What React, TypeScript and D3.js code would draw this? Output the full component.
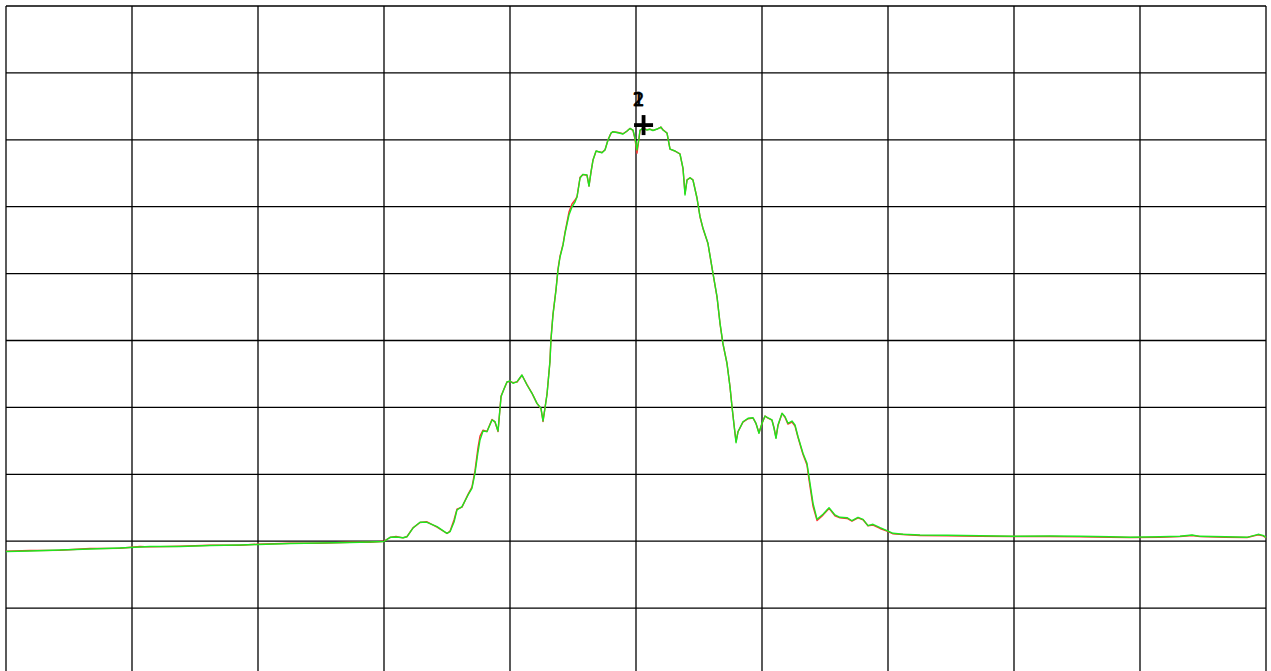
import React from "react";
import * as d3 from "d3";

// Frequency offset from start frequency (MHz), span 100 MHz, 10 MHz/div
const freqMHz: number[] = [
  0.0, 1.9, 4.29, 6.67, 9.05, 10.63, 11.43, 13.81, 16.19, 18.57, 20.0, 22.54, 24.92, 27.3, 28.89, 30.0,
  30.48, 30.95, 31.51, 31.83, 32.3, 32.86, 33.41, 34.21, 35.0, 35.24, 35.56, 35.79, 36.19, 36.67, 36.98, 37.22,
  37.46, 37.62, 37.86, 38.17, 38.57, 38.81, 39.05, 39.29, 39.52, 39.76, 40.0, 40.24, 40.56, 40.95, 41.35, 41.75,
  42.14, 42.46, 42.62, 42.78, 42.94, 43.17,
  43.25, 43.41, 43.65, 43.81, 43.97, 44.21, 44.37, 44.68, 44.92, 45.16, 45.32, 45.56, 45.79, 46.11, 46.27, 46.43,
  46.59, 46.83, 47.3, 47.54, 47.78, 48.02, 48.17, 48.57, 48.97, 49.29, 49.52, 49.76, 49.92, 50.08, 50.24, 50.32,
  50.56, 50.87, 51.11, 51.35, 51.67, 51.98, 52.14, 52.46,
  52.7, 53.1, 53.49, 53.73, 53.89, 54.05, 54.29, 54.52, 54.84, 55.08, 55.32, 55.71, 56.11, 56.43, 56.67, 56.9,
  57.22, 57.46, 57.62, 57.78, 57.94,
  58.1, 58.49, 58.89, 59.29, 59.52, 59.76, 60.0, 60.24, 60.48, 60.79, 60.95, 61.11, 61.27, 61.59, 61.83, 62.06,
  62.38, 62.62, 62.86, 63.25, 63.57, 63.73, 64.05, 64.37,
  64.84, 65.32, 65.79, 66.19, 66.75, 67.14, 67.62, 68.02, 68.41, 68.81, 69.37, 69.92, 70.4, 71.19, 72.54, 74.68,
  77.3, 79.92, 82.86, 85.24, 87.62, 89.21, 91.59, 93.17, 94.13, 94.76, 96.75, 98.49, 99.37, 99.76, 100.0,
];

// Trace 2 (green), dBm
const greenLevel: number[] = [
  -81.54, -81.46, -81.32, -81.17, -81.02, -80.87, -80.79, -80.79, -80.64, -80.57, -80.49, -80.34, -80.27, -80.19, -80.12, -80.04,
  -79.42, -79.37, -79.48, -79.33, -78.03, -77.17, -77.17, -77.83, -78.82, -78.58, -77.13, -75.34, -74.84, -73.09, -72.09, -69.85,
  -66.67, -64.87, -63.53, -63.63, -61.88, -62.14, -63.53, -58.4, -57.25, -56.2, -56.05, -56.4, -56.16, -55.16, -56.65, -57.89,
  -59.39, -60.13, -62.03, -60.09, -58.0, -53.21,
  -49.93, -46.19, -42.45, -39.46, -37.52, -35.72, -33.93, -31.24, -30.04, -29.3, -28.55, -25.71, -25.16, -25.26, -26.91, -24.81,
  -23.02, -21.67, -21.93, -21.52, -20.03, -18.98, -18.79, -18.94, -19.13, -18.68, -18.31, -18.54, -19.73, -21.52, -19.73, -18.54,
  -18.28, -18.54, -18.43, -18.61, -18.39, -18.09, -18.54, -18.98,
  -21.38, -21.67, -22.12, -24.22, -28.25, -26.01, -25.67, -26.01, -28.7, -31.49, -33.23, -35.47, -39.96, -43.45, -47.43, -50.42,
  -53.41, -56.91, -59.9, -62.63, -65.28,
  -63.63, -62.14, -61.63, -61.54, -62.38, -63.87, -62.38, -61.29, -61.58, -61.88, -63.08, -64.62, -62.63, -60.88, -61.39, -62.38,
  -62.03, -62.63, -64.38, -66.86, -68.36, -70.36, -74.34, -76.73,
  -75.98, -74.99, -76.08, -76.43, -76.49, -76.94, -76.43, -76.73, -77.68, -77.47, -77.98, -78.43, -78.82, -78.97, -79.07, -79.12,
  -79.19, -79.27, -79.22, -79.27, -79.34, -79.42, -79.34, -79.27, -79.07, -79.27, -79.34, -79.42, -78.97, -79.12, -79.42,
];

// Trace 1 (red), dBm
const redLevel: number[] = [
  -81.5, -81.4, -81.35, -81.1, -81.05, -80.8, -80.85, -80.75, -80.6, -80.6, -80.45, -80.3, -80.3, -80.15, -80.15, -80.0,
  -79.45, -79.3, -79.5, -79.3, -78.0, -77.2, -77.1, -77.9, -78.85, -78.5, -76.8, -75.2, -74.9, -73.0, -71.9, -69.5,
  -66.0, -64.3, -63.4, -63.6, -61.8, -62.2, -63.6, -58.3, -57.3, -56.2, -56.1, -56.3, -56.2, -55.2, -56.6, -57.9,
  -59.4, -60.2, -62.1, -60.0, -58.0, -53.1,
  -49.8, -46.1, -42.4, -39.3, -37.4, -35.6, -33.8, -30.8, -29.6, -29.0, -28.5, -25.6, -25.2, -25.3, -26.9, -24.8,
  -23.0, -21.7, -21.9, -21.5, -20.0, -19.0, -18.8, -18.9, -19.1, -18.7, -18.3, -18.6, -19.9, -22.0, -19.8, -18.6,
  -18.3, -18.5, -18.4, -18.6, -18.4, -18.1, -18.5, -19.0,
  -21.4, -21.7, -22.1, -24.3, -28.0, -26.0, -25.7, -26.0, -28.7, -31.5, -33.3, -35.5, -40.0, -43.5, -47.5, -50.5,
  -53.4, -56.9, -59.9, -62.6, -65.1,
  -63.6, -62.2, -61.7, -61.6, -62.4, -63.8, -62.4, -61.3, -61.6, -61.9, -63.0, -64.5, -62.7, -60.9, -61.5, -62.5,
  -62.2, -62.8, -64.5, -67.0, -68.6, -70.8, -74.8, -76.9,
  -76.1, -75.1, -76.2, -76.5, -76.6, -77.0, -76.5, -76.8, -77.7, -77.6, -78.1, -78.5, -78.9, -79.0, -79.15, -79.2,
  -79.25, -79.3, -79.3, -79.35, -79.4, -79.45, -79.4, -79.3, -79.15, -79.3, -79.4, -79.45, -79.05, -79.2, -79.45,
];

const markerFreq: number[] = [50.6, 50.6];
const markerLevel: number[] = [-17.8, -17.8];
const markerLabels: string[] = ["1", "2"];

const xTicks: number[] = [0, 10, 20, 30, 40, 50, 60, 70, 80, 90, 100];
const yTicks: number[] = [0, -10, -20, -30, -40, -50, -60, -70, -80, -90, -100];

const W = 1271;
const H = 671;

export default function App() {
  const x = d3.scaleLinear().domain([0, 100]).range([6, 1266]);
  const y = d3.scaleLinear().domain([0, -100]).range([6, 675]);

  const mk = (lv: number[]) =>
    d3
      .line<number>()
      .x((_, i) => x(freqMHz[i]))
      .y((v) => y(v))
      .curve(d3.curveLinear)(lv.slice(0, freqMHz.length)) || "";

  const mx = x(markerFreq[0]);
  const my = y(markerLevel[0]);

  return (
    <svg
      width={W}
      height={H}
      style={{ position: "absolute", left: 0, top: 0, background: "#fff" }}
    >
      <rect x={0} y={0} width={W} height={H} fill="#fff" />
      {xTicks.map((t) => (
        <line key={"vx" + t} x1={x(t)} x2={x(t)} y1={y(0)} y2={y(-100)} stroke="#000" strokeWidth={1.3} />
      ))}
      {yTicks.map((t) => (
        <line key={"hy" + t} x1={x(0)} x2={x(100)} y1={y(t)} y2={y(t)} stroke="#000" strokeWidth={1.3} />
      ))}
      <path d={mk(redLevel)} fill="none" stroke="#ff3030" strokeWidth={1.4} strokeLinejoin="round" />
      <path d={mk(greenLevel)} fill="none" stroke="#1ee61e" strokeWidth={1.4} strokeLinejoin="round" />
      {markerLabels.map((lab, i) => (
        <text
          key={"ml" + i}
          x={x(markerFreq[i]) - 5}
          y={y(markerLevel[i]) - 19}
          textAnchor="middle"
          fontFamily="DejaVu Sans, sans-serif"
          fontSize={19}
          fill="#000"
          stroke="#000"
          strokeWidth={0.5}
        >
          {lab}
        </text>
      ))}
      <g>
        <rect x={mx - 9.5} y={my - 1.9} width={19} height={3.8} fill="#000" />
        <rect x={mx - 1.9} y={my - 10} width={3.8} height={20} fill="#000" />
      </g>
    </svg>
  );
}
